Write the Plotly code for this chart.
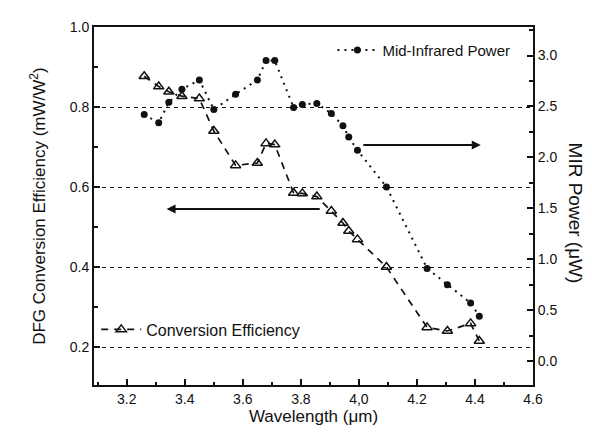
import plotly.graph_objects as go

wavelength = [3.26, 3.31, 3.345, 3.39, 3.45, 3.50, 3.575, 3.65, 3.68, 3.71, 3.775,
              3.805, 3.855, 3.905, 3.945, 3.965, 3.995, 4.095, 4.235, 4.305, 4.385, 4.415]
conv_eff = [0.877, 0.851, 0.838, 0.827, 0.821, 0.74, 0.654, 0.66, 0.709, 0.706, 0.585,
            0.584, 0.576, 0.54, 0.51, 0.49, 0.469, 0.40, 0.249, 0.24, 0.259, 0.215]
mir_power = [2.42, 2.34, 2.54, 2.67, 2.76, 2.47, 2.62, 2.76, 2.95, 2.95, 2.49,
             2.52, 2.53, 2.43, 2.31, 2.20, 2.07, 1.71, 0.91, 0.75, 0.57, 0.44]

x_ticks = [3.2, 3.4, 3.6, 3.8, 4.0, 4.2, 4.4, 4.6]
x_tick_text = ["3.2", "3.4", "3.6", "3.8", "4,0", "4.2", "4.4", "4.6"]
left_ticks = [0.2, 0.4, 0.6, 0.8, 1.0]
right_ticks = [0.0, 0.5, 1.0, 1.5, 2.0, 2.5, 3.0]

FONT = "Liberation Sans, Arial, sans-serif"
INK = "#111111"

fig = go.Figure()
fig.add_trace(go.Scatter(
    x=wavelength, y=mir_power, yaxis="y2", name="Mid-Infrared Power",
    mode="lines+markers", showlegend=True,
    line=dict(color=INK, width=2, dash="2px,5px"),
    marker=dict(symbol="circle", size=7, color=INK),
    legend="legend",
))
fig.add_trace(go.Scatter(
    x=wavelength, y=conv_eff, yaxis="y", name="Conversion Efficiency",
    mode="lines+markers", showlegend=True,
    line=dict(color=INK, width=1.7, dash="7px,6px"),
    marker=dict(symbol="triangle-up-open", size=9, color=INK, line=dict(width=1.5)),
    legend="legend2",
))

# arrows indicating axes
fig.add_annotation(x=4.42, y=0.705, ax=4.01, ay=0.705, xref="x", yref="y",
                   axref="x", ayref="y", showarrow=True, arrowhead=2,
                   arrowsize=1, arrowwidth=1.8, arrowcolor=INK, text="")
fig.add_annotation(x=3.337, y=0.545, ax=3.87, ay=0.545, xref="x", yref="y",
                   axref="x", ayref="y", showarrow=True, arrowhead=2,
                   arrowsize=1, arrowwidth=1.8, arrowcolor=INK, text="")

# axis titles
fig.add_annotation(x=-0.128, y=0.5, xref="paper", yref="paper", xanchor="center", yanchor="middle",
                   text="DFG Conversion Efficiency (mW/W<sup>2</sup>)", textangle=-90,
                   showarrow=False, font=dict(family=FONT, size=17, color=INK))
fig.add_annotation(x=1.097, y=0.48, xref="paper", yref="paper", xanchor="center", yanchor="middle",
                   text="MIR Power (μW)", textangle=90,
                   showarrow=False, font=dict(family=FONT, size=19, color=INK))

axis_common = dict(showline=True, linecolor=INK, linewidth=2,
                   ticks="inside", ticklen=6, tickwidth=1.5, tickcolor=INK,
                   zeroline=False, tickfont=dict(family=FONT, size=14, color=INK))

fig.update_layout(
    width=592, height=433,
    margin=dict(l=86, r=67, t=19, b=56),
    paper_bgcolor="white", plot_bgcolor="white",
    showlegend=True,
    font=dict(family=FONT, color=INK),
    xaxis=dict(range=[3.087, 4.6], tickvals=x_ticks, ticktext=x_tick_text,
               showgrid=False, mirror=True,
               minor=dict(ticks="inside", ticklen=3, dtick=0.1, tick0=3.1, tickcolor=INK, showgrid=False),
               title=dict(text="Wavelength (μm)", font=dict(family=FONT, size=17, color=INK), standoff=4),
               **axis_common),
    yaxis=dict(range=[0.105, 1.0], tickvals=left_ticks, ticktext=["0.2", "0.4", "0.6", "0.8", "1.0"],
               showgrid=True, gridcolor=INK, gridwidth=1.2, griddash="4px,4px",
               minor=dict(ticks="inside", ticklen=4, dtick=0.1, tick0=0.1, tickcolor=INK, showgrid=False),
               **axis_common),
    yaxis2=dict(range=[-0.235, 3.28], tickvals=right_ticks,
                ticktext=["0.0", "0.5", "1.0", "1.5", "2.0", "2.5", "3.0"],
                overlaying="y", side="right", showgrid=False,
                minor=dict(ticks="inside", ticklen=4, dtick=0.25, tick0=0, tickcolor=INK, showgrid=False),
                **axis_common),
    legend=dict(x=0.96, y=0.935, xanchor="right", yanchor="middle",
                bgcolor="rgba(0,0,0,0)", font=dict(family=FONT, size=15, color=INK),
                itemwidth=40, tracegroupgap=0, visible=True),
    legend2=dict(x=0.005, y=0.155, xanchor="left", yanchor="middle",
                 bgcolor="rgba(0,0,0,0)", font=dict(family=FONT, size=16, color=INK),
                 itemwidth=40, tracegroupgap=0, visible=True),
)

fig.write_html("out.html")
